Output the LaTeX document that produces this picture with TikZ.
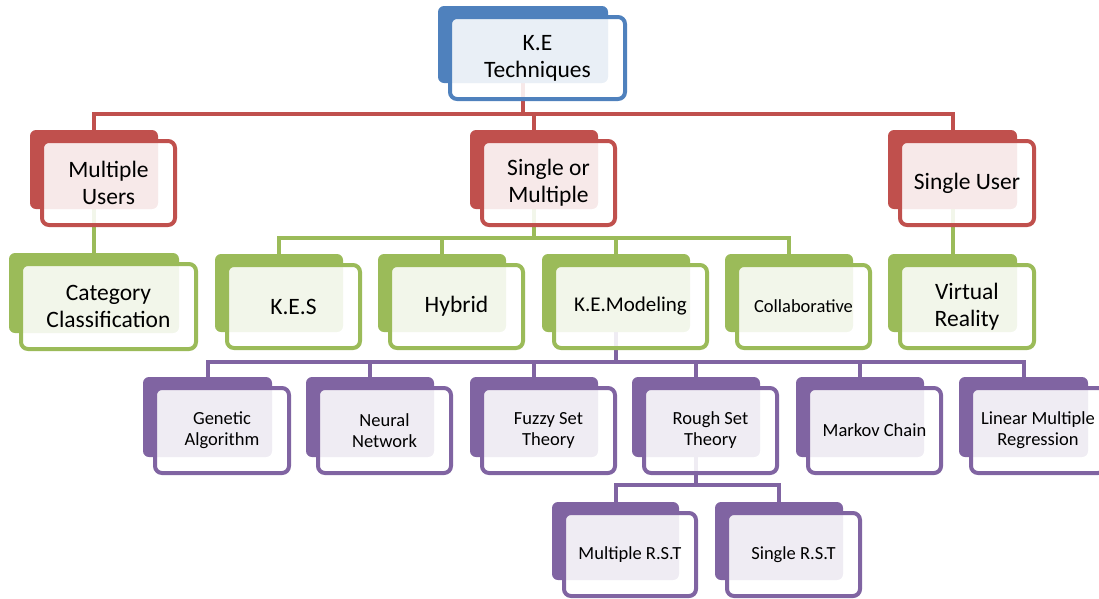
\documentclass[tikz,border=0pt]{standalone}
\usepackage{fontspec}
\setmainfont{Carlito}
\definecolor{keblue}{HTML}{4F81BD}
\definecolor{kered}{HTML}{C0504D}
\definecolor{kegreen}{HTML}{9BBB59}
\definecolor{kepurple}{HTML}{8064A2}
\pgfdeclarelayer{background}
\pgfsetlayers{background,main}
\tikzset{
  backbox/.style={fill=#1, draw=none, rounded corners=6pt, inner sep=0pt},
  frontbox/.style={draw=#1, line width=4pt, fill=white, fill opacity=0.88,
    text opacity=1, text=black, rounded corners=7pt, inner sep=0pt, align=center},
  bigtext/.style={font=\fontsize{23.5}{27}\selectfont},
  midtext/.style={font=\fontsize{21}{25}\selectfont},
  smalltext/.style={font=\fontsize{18.5}{21}\selectfont},
  link/.style={draw=#1, line width=4pt},
}
% #1 name, #2 colour, #3 left, #4 top, #5 width, #6 height, #7 text style, #8 text
\newcommand\kebox[8]{%
  \node[backbox=#2, minimum width=#5pt, minimum height=#6pt]
    (#1-b) at ({#3+#5/2},{#4+#6/2}) {};
  \node[frontbox=#2, #7, minimum width={#5pt+5pt}, minimum height={#6pt+5pt}]
    (#1) at ({#3+#5/2+14.5},{#4+#6/2+13.5}) {#8};
}
\begin{document}
\begin{tikzpicture}[x=1pt,y=-1pt]
\useasboundingbox (0,0) rectangle (1099,598);

% root
\kebox{ke}{keblue}{438}{6}{170}{77}{bigtext}{K.E\\Techniques}
% level 1
\kebox{mu}{kered}{30}{130}{128}{79}{bigtext}{Multiple\\Users}
\kebox{som}{kered}{470}{130}{128}{79}{bigtext}{Single or\\Multiple}
\kebox{su}{kered}{888}{130}{129}{79}{bigtext}{Single User}
% level 2
\kebox{cat}{kegreen}{9}{253}{170}{80}{bigtext}{Category\\Classification}
\kebox{kes}{kegreen}{215}{254}{128}{78}{bigtext}{K.E.S}
\kebox{hyb}{kegreen}{378}{254}{128}{78}{bigtext}{Hybrid}
\kebox{kem}{kegreen}{542}{254}{148}{78}{midtext}{K.E.Modeling}
\kebox{col}{kegreen}{725}{254}{128}{78}{smalltext}{Collaborative}
\kebox{vr}{kegreen}{888}{254}{129}{78}{bigtext}{Virtual\\Reality}
% level 3
\kebox{ga}{kepurple}{143}{377}{129}{80}{smalltext}{Genetic\\Algorithm}
\kebox{nn}{kepurple}{306}{377}{128}{80}{smalltext}{Neural\\Network}
\kebox{fst}{kepurple}{470}{377}{128}{80}{smalltext}{Fuzzy Set\\Theory}
\kebox{rst}{kepurple}{632}{377}{128}{80}{smalltext}{Rough Set\\Theory}
\kebox{mc}{kepurple}{796}{377}{128}{80}{smalltext}{Markov Chain}
\kebox{lmr}{kepurple}{959}{377}{129}{80}{smalltext}{Linear Multiple\\Regression}
% level 4
\kebox{mrst}{kepurple}{552}{502}{127}{78}{smalltext}{Multiple R.S.T}
\kebox{srst}{kepurple}{715}{502}{128}{78}{smalltext}{Single R.S.T}

% bus junctions
\coordinate (redbus) at (523,114);
\coordinate (greenbus) at (534,238);
\coordinate (purplebus) at (616,362);
\coordinate (rstbus) at (696,485);

\begin{pgfonlayer}{background}
  \draw[link=kered] (ke-b.center) -- (redbus) -| (mu-b.center);
  \draw[link=kered] (redbus) -| (som-b.center);
  \draw[link=kered] (redbus) -| (su-b.center);

  \draw[link=kegreen] (mu-b.center) -- (cat-b.center);
  \draw[link=kegreen] (su-b.center) -- (vr-b.center);
  \draw[link=kegreen] (som-b.center) -- (greenbus) -| (kes-b.center);
  \draw[link=kegreen] (greenbus) -| (hyb-b.center);
  \draw[link=kegreen] (greenbus) -| (kem-b.center);
  \draw[link=kegreen] (greenbus) -| (col-b.center);

  \draw[link=kepurple] (kem-b.center) -- (purplebus) -| (ga-b.center);
  \draw[link=kepurple] (purplebus) -| (nn-b.center);
  \draw[link=kepurple] (purplebus) -| (fst-b.center);
  \draw[link=kepurple] (purplebus) -| (rst-b.center);
  \draw[link=kepurple] (purplebus) -| (mc-b.center);
  \draw[link=kepurple] (purplebus) -| (lmr-b.center);

  \draw[link=kepurple] (rst-b.center) -- (rstbus) -| (mrst-b.center);
  \draw[link=kepurple] (rstbus) -| (srst-b.center);
\end{pgfonlayer}
\end{tikzpicture}
\end{document}
